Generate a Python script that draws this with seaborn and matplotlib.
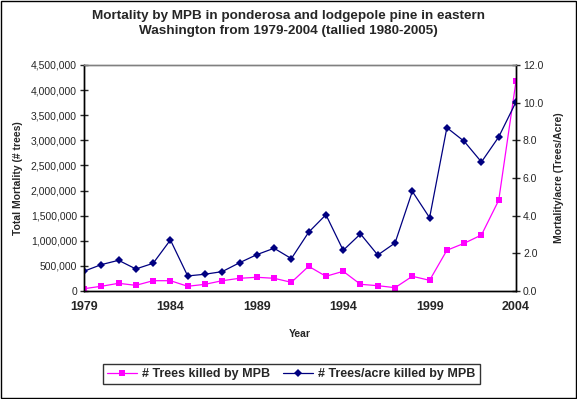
import numpy as np
import pandas as pd
import matplotlib
matplotlib.use("Agg")
import matplotlib.pyplot as plt
from matplotlib.patches import Rectangle
from matplotlib.ticker import FuncFormatter
import seaborn as sns

years = list(range(1979, 2005))
trees_killed = [46000, 94000, 153000, 113000, 205000, 205000, 94000, 133000, 205000,
                253000, 273000, 253000, 173000, 492000, 293000, 392000, 133000, 106000,
                66000, 293000, 213000, 811000, 950000, 1115000, 1807000, 4177000]
trees_per_acre = [1.05, 1.40, 1.63, 1.17, 1.47, 2.71, 0.80, 0.89, 1.03, 1.50, 1.93,
                  2.27, 1.72, 3.12, 4.05, 2.16, 3.03, 1.91, 2.55, 5.29, 3.89, 8.67,
                  7.95, 6.85, 8.18, 10.04]

df = pd.DataFrame({"year": years, "trees": trees_killed, "per_acre": trees_per_acre})

sns.set_style("white")
plt.rcParams['font.family'] = ['Liberation Sans', 'DejaVu Sans']

fig = plt.figure(figsize=(5.77, 3.99), dpi=100)
ax = fig.add_axes([84 / 577, 1 - 291 / 399, 432 / 577, 226 / 399])
ax2 = ax.twinx()

sns.lineplot(data=df, x="year", y="trees", ax=ax, color="#FF00FF", marker="s",
             markersize=5, markeredgewidth=0, linewidth=0.9, label="# Trees killed by MPB",
             legend=False)
sns.lineplot(data=df, x="year", y="per_acre", ax=ax2, color="#000080", marker="D",
             markersize=4.5, markeredgewidth=0, linewidth=0.9,
             label="# Trees/acre killed by MPB", legend=False)

ax.set_xlim(1979, 2004)
ax.set_ylim(0, 4500000)
ax2.set_ylim(0, 12)
ax.set_xticks(range(1979, 2005, 5))
ax.set_yticks(np.arange(0, 4500001, 500000))
ax2.set_yticks(np.arange(0, 12.1, 2))
ax.yaxis.set_major_formatter(FuncFormatter(lambda v, p: f"{int(v):,}"))
ax2.yaxis.set_major_formatter(FuncFormatter(lambda v, p: f"{v:.1f}"))

for a in (ax, ax2):
    for s in a.spines.values():
        s.set_color("black")
        s.set_linewidth(1)
    a.spines["top"].set_color("#808080")
ax.tick_params(axis="y", direction="inout", length=6, width=1, labelsize=7.5, pad=2)
ax.tick_params(axis="x", direction="out", length=5, width=1, labelsize=9, pad=2)
ax2.tick_params(axis="y", direction="inout", length=6, width=1, labelsize=7.5, pad=2)
for lbl in ax.get_xticklabels():
    lbl.set_fontweight("bold")

ax.set_xlabel("Year", fontsize=7.5, fontweight="bold", labelpad=12)
ax.set_ylabel("Total Mortality (# trees)", fontsize=7.5, fontweight="bold", labelpad=6)
ax2.set_ylabel("Mortality/acre (Trees/Acre)", fontsize=7.5, fontweight="bold", labelpad=8)

fig.suptitle("Mortality by MPB in ponderosa and lodgepole pine in eastern\n"
             "Washington from 1979-2004 (tallied 1980-2005)",
             fontsize=9.7, fontweight="bold", y=0.975, linespacing=1.3)

h1, l1 = ax.get_legend_handles_labels()
h2, l2 = ax2.get_legend_handles_labels()
leg = fig.legend(h1 + h2, l1 + l2, loc="center", bbox_to_anchor=(0.505, 1 - 374 / 399),
                 ncol=2, fontsize=9, frameon=True, fancybox=False, handlelength=2.4,
                 columnspacing=1.0, handletextpad=0.4, borderpad=0.35)
leg.get_frame().set_edgecolor("black")
leg.get_frame().set_linewidth(1)
for t in leg.get_texts():
    t.set_fontweight("bold")

fig.patches.append(Rectangle((0.001, 0.002), 0.997, 0.996, transform=fig.transFigure,
                             fill=False, edgecolor="black", linewidth=1))

fig.savefig("out.png", dpi=100)
